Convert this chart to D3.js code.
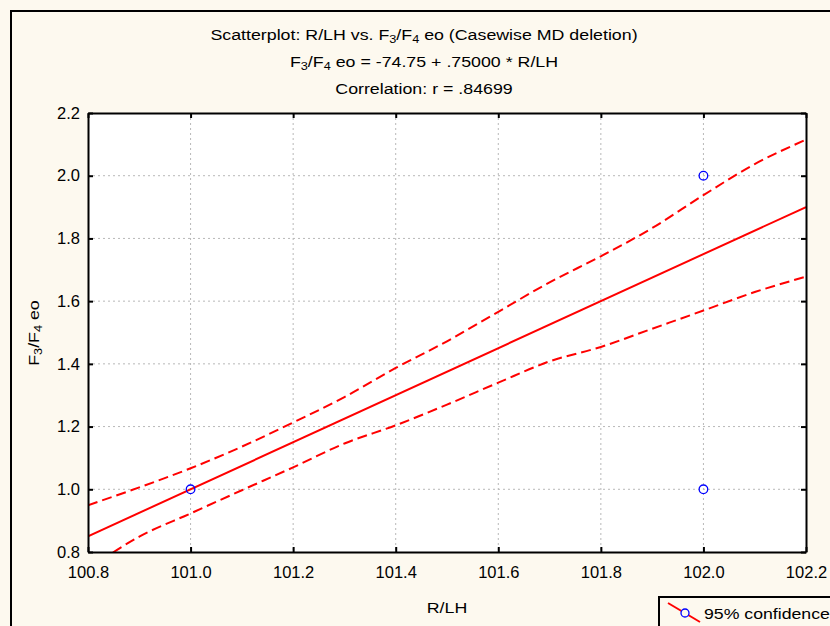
<!DOCTYPE html>
<html><head><meta charset="utf-8">
<script src="https://cdn.jsdelivr.net/npm/d3@7"></script>
<style>
body{margin:0;padding:0;background:#fdf9ef;}
svg{display:block;font-family:"Liberation Sans",Arial,sans-serif;}
</style></head>
<body>
<svg id="chart" width="830" height="626"></svg>
<script>
// ---- data ----
const pointsX = [101.0, 102.0, 102.0];
const pointsY = [1.0, 2.0, 1.0];
const fitIntercept = -74.75;
const fitSlope = 0.75;
const bandX     = [100.8, 100.9, 101.0, 101.1, 101.2, 101.3, 101.4, 101.5, 101.6, 101.7, 101.8, 101.9, 102.0, 102.1, 102.2];
const bandUpper = [0.949, 1.006, 1.067, 1.136, 1.213, 1.294, 1.387, 1.472, 1.566, 1.660, 1.743, 1.833, 1.938, 2.037, 2.115];
const bandLower = [0.745, 0.849, 0.923, 0.997, 1.070, 1.146, 1.204, 1.270, 1.340, 1.408, 1.454, 1.512, 1.570, 1.629, 1.678];
const xTicks = [100.8, 101.0, 101.2, 101.4, 101.6, 101.8, 102.0, 102.2];
const yTicks = [0.8, 1.0, 1.2, 1.4, 1.6, 1.8, 2.0, 2.2];
const xDomain = [100.8, 102.2];
const yDomain = [0.8, 2.2];

const svg = d3.select("#chart");
const W = 830, H = 626;
const m = {left: 88, right: 806, top: 113, bottom: 552};
const SX = 1.27; // horizontal stretch of the original's text

svg.append("rect").attr("width", W).attr("height", H).attr("fill", "#fdf9ef");
svg.append("path").attr("d", `M11,${H+5} L11,11 L${W+5},11`).attr("fill","none").attr("stroke","#000").attr("stroke-width",2);

const x = d3.scaleLinear().domain(xDomain).range([m.left, m.right]);
const y = d3.scaleLinear().domain(yDomain).range([m.bottom, m.top]);

svg.append("rect").attr("x", m.left).attr("y", m.top).attr("width", m.right-m.left).attr("height", m.bottom-m.top).attr("fill", "#fff");

// grid
const grid = svg.append("g");
grid.selectAll(".gx").data(xTicks.slice(1, -1)).enter().append("line")
  .attr("x1", d=>x(d)).attr("x2", d=>x(d)).attr("y1", m.top).attr("y2", m.bottom)
  .attr("stroke", "#b8b8b8").attr("stroke-width", 1).attr("stroke-dasharray", "2,3");
grid.selectAll(".gy").data(yTicks.slice(1, -1)).enter().append("line")
  .attr("y1", d=>y(d)).attr("y2", d=>y(d)).attr("x1", m.left).attr("x2", m.right)
  .attr("stroke", "#b8b8b8").attr("stroke-width", 1).attr("stroke-dasharray", "2,3");

svg.append("clipPath").attr("id","clip").append("rect")
  .attr("x", m.left).attr("y", m.top).attr("width", m.right-m.left).attr("height", m.bottom-m.top);
const plot = svg.append("g").attr("clip-path","url(#clip)");

const fitLine = d3.line().x(d=>x(d)).y(d=>y(fitIntercept + fitSlope*d));
plot.append("path").datum(xDomain).attr("d", fitLine).attr("fill","none").attr("stroke","#ff0000").attr("stroke-width",2);

const bandLine = d3.line().x(d=>x(d[0])).y(d=>y(d[1])).curve(d3.curveMonotoneX);
[bandUpper, bandLower].forEach(b=>{
  plot.append("path").datum(bandX.map((v,i)=>[v,b[i]])).attr("d", bandLine)
    .attr("fill","none").attr("stroke","#ff0000").attr("stroke-width",2).attr("stroke-dasharray","10,5");
});

svg.selectAll(".pt").data(pointsX.map((v,i)=>[v,pointsY[i]])).enter().append("circle")
  .attr("cx", d=>x(d[0])).attr("cy", d=>y(d[1])).attr("r", 4.3)
  .attr("fill","none").attr("stroke","#0000ff").attr("stroke-width",1.3);

// axes
const fmt = d3.format(".1f");
const tickLen = 5;
const axB = svg.append("g").attr("transform", `translate(0,${m.bottom})`)
  .call(d3.axisBottom(x).tickValues(xTicks).tickFormat(fmt).tickSizeInner(-tickLen).tickSizeOuter(0).tickPadding(14));
const axT = svg.append("g").attr("transform", `translate(0,${m.top})`)
  .call(d3.axisTop(x).tickValues(xTicks).tickFormat("").tickSizeInner(-tickLen).tickSizeOuter(0));
const axL = svg.append("g").attr("transform", `translate(${m.left},0)`)
  .call(d3.axisLeft(y).tickValues(yTicks).tickFormat(fmt).tickSizeInner(-tickLen).tickSizeOuter(0).tickPadding(8));
const axR = svg.append("g").attr("transform", `translate(${m.right},0)`)
  .call(d3.axisRight(y).tickValues(yTicks).tickFormat("").tickSizeInner(-tickLen).tickSizeOuter(0));
[axB, axT, axL, axR].forEach(a=>{
  a.select(".domain").attr("stroke","#000").attr("stroke-width",2);
  a.selectAll(".tick line").attr("stroke","#000").attr("stroke-width",2);
  a.selectAll("text").attr("font-family","Liberation Sans, Arial, sans-serif").attr("font-size",16.5).attr("fill","#000");
});

// stretched text helper
function stretched(parent, cx, cy, size, sx, rotate) {
  const g = parent.append("g").attr("transform", `translate(${cx},${cy})` + (rotate ? ` rotate(${rotate})` : "") + ` scale(${sx},1)`);
  return g.append("text").attr("x",0).attr("y",0).attr("text-anchor","middle").attr("font-size",size).attr("fill","#000");
}
function fracLabel(t, tail) {
  t.append("tspan").text("F");
  t.append("tspan").attr("font-size",10).attr("dy",3).text("3");
  t.append("tspan").attr("dy",-3).text("/F");
  t.append("tspan").attr("font-size",10).attr("dy",3).text("4");
  t.append("tspan").attr("dy",-3).text(tail);
}

const t1 = stretched(svg, 424, 40, 14, SX);
t1.append("tspan").text("Scatterplot: R/LH vs. ");
fracLabel(t1, " eo (Casewise MD deletion)");
const t2 = stretched(svg, 424, 67, 14, SX);
fracLabel(t2, " eo = -74.75 + .75000 * R/LH");
stretched(svg, 424, 94, 14, SX).text("Correlation: r = .84699");

// axis titles
stretched(svg, 447, 613, 14, SX).text("R/LH");
const yl = stretched(svg, 39, 333, 14, SX, -90);
fracLabel(yl, " eo");

// legend
const lg = svg.append("g");
lg.append("rect").attr("x",659).attr("y",597).attr("width",200).attr("height",60).attr("fill","#fdf9ef").attr("stroke","#000").attr("stroke-width",2);
lg.append("line").attr("x1",668).attr("y1",603).attr("x2",700).attr("y2",622).attr("stroke","#ff0000").attr("stroke-width",2);
lg.append("circle").attr("cx",685).attr("cy",613).attr("r",4).attr("fill","#fdf9ef").attr("stroke","#0000ff").attr("stroke-width",1.3);
lg.append("g").attr("transform","translate(704,619) scale(1.18,1)")
  .append("text").attr("x",0).attr("y",0).attr("font-size",15).attr("fill","#000").text("95% confidence");
</script>
</body></html>
